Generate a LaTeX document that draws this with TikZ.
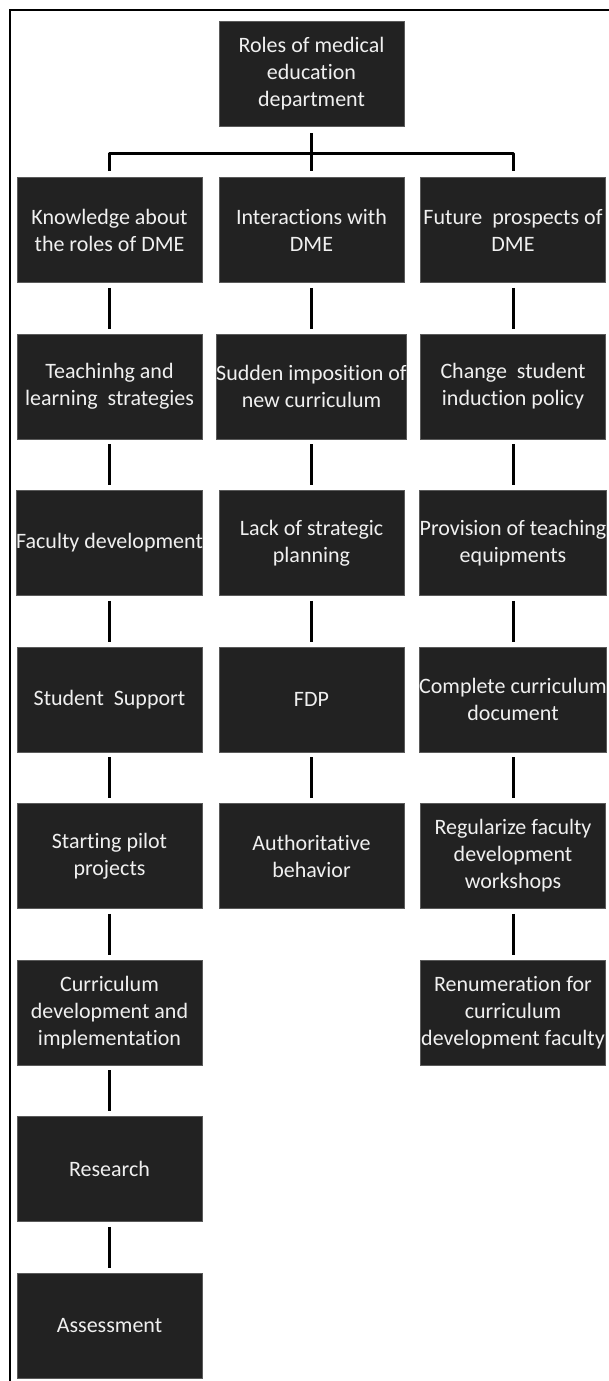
\documentclass[tikz,border=0pt]{standalone}
\usepackage{fontspec}
\setmainfont{Carlito}[Ligatures=NoCommon]
\begin{document}
\begin{tikzpicture}[x=1pt,y=-1pt,
  box/.style={rectangle, fill=boxfill, draw=boxedge, line width=0.8pt,
    minimum width=185pt, minimum height=105pt, inner sep=0pt,
    text=boxtext, align=center, font=\fontsize{22}{27}\selectfont},
  conn/.style={draw=black, line width=3pt, line join=round}]
\definecolor{boxfill}{RGB}{34,34,34}
\definecolor{boxedge}{RGB}{90,90,90}
\definecolor{boxtext}{RGB}{240,240,240}
\useasboundingbox (0,0) rectangle (608,1381);
% frame
\draw[line width=2.6pt] (10,1390) -- (10,10) -- (620,10);
% top
\node[box] (top) at (311.5,73.5) {Roles of medical\\education\\department};
% row 1
\node[box] (a1) at (109.5,230) {Knowledge about\\the roles of DME};
\node[box] (b1) at (311.5,230) {Interactions with\\DME};
\node[box] (c1) at (513,230) {Future\ \ prospects of\\DME};
% row 2
\node[box] (a2) at (109.5,386.5) {Teachinhg and\\learning\ \ strategies};
\node[box] (b2) at (311.5,386.5) {Sudden imposition of\\new curriculum};
\node[box] (c2) at (513,386.5) {Change\ \ student\\induction policy};
% row 3
\node[box] (a3) at (109.5,543) {Faculty development};
\node[box] (b3) at (311.5,543) {Lack of strategic\\planning};
\node[box] (c3) at (513,543) {Provision of teaching\\equipments};
% row 4
\node[box] (a4) at (109.5,699.5) {Student\ \ Support};
\node[box] (b4) at (311.5,699.5) {FDP};
\node[box] (c4) at (513,699.5) {Complete curriculum\\document};
% row 5
\node[box] (a5) at (109.5,856) {Starting pilot\\projects};
\node[box] (b5) at (311.5,856) {Authoritative\\behavior};
\node[box] (c5) at (513,856) {Regularize faculty\\development\\workshops};
% row 6
\node[box] (a6) at (109.5,1012.5) {Curriculum\\development and\\implementation};
\node[box] (c6) at (513,1012.5) {Renumeration for\\curriculum\\development faculty};
% row 7, 8
\node[box] (a7) at (109.5,1169) {Research};
\node[box] (a8) at (109.5,1325.5) {Assessment};
% tree connectors
\coordinate (bar) at (311.5,153);
\draw[conn] ([yshift=-7pt]top.south) -- ([yshift=6pt]b1.north);
\draw[conn] ([yshift=6pt]a1.north) |- (bar) -| ([yshift=6pt]c1.north);
% column connectors
\foreach \u/\v in {a1/a2,a2/a3,a3/a4,a4/a5,a5/a6,a6/a7,a7/a8,
                   b1/b2,b2/b3,b3/b4,b4/b5,
                   c1/c2,c2/c3,c3/c4,c4/c5,c5/c6}
  \draw[conn] ([yshift=-5pt]\u.south) -- ([yshift=5pt]\v.north);
\end{tikzpicture}
\end{document}
